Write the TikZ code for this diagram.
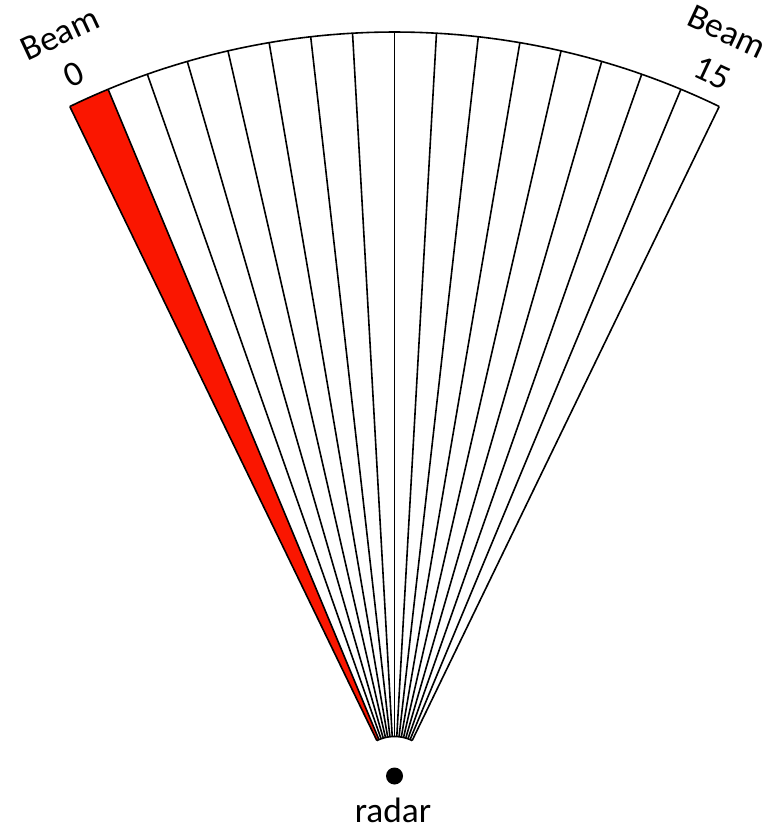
\documentclass[tikz,border=0pt]{standalone}
\usepackage{fontspec}
\setmainfont{Carlito}
\definecolor{beamred}{RGB}{250,22,0}
\tikzset{
  beamline/.style={line width=1.2pt, black},
  lbl/.style={font=\fontsize{26.5}{29}\selectfont, inner sep=0pt},
}
\begin{document}
\begin{tikzpicture}[x=0.75pt,y=-0.75pt]
\useasboundingbox (0,0) rectangle (774,837);
\def\cx{394.5}\def\cy{777}\def\R{745}\def\r{40.5}
\def\ha{25.84}\def\st{3.23}
% red beam 0
\fill[beamred] plot[domain=-\ha:-\ha+\st, samples=10] ({\cx+\R*sin(\x)},{\cy-\R*cos(\x)})
  -- plot[domain=-\ha+\st:-\ha, samples=5] ({\cx+\r*sin(\x)},{\cy-\r*cos(\x)}) -- cycle;
% outer and inner arcs
\draw[beamline] plot[domain=-\ha:\ha, samples=120] ({\cx+\R*sin(\x)},{\cy-\R*cos(\x)});
\draw[beamline] plot[domain=-\ha:\ha, samples=30] ({\cx+\r*sin(\x)},{\cy-\r*cos(\x)});
% beam boundaries
\foreach \i in {0,...,16}{
  \pgfmathsetmacro{\t}{-\ha+\st*\i}
  \draw[beamline] ({\cx+\r*sin(\t)},{\cy-\r*cos(\t)}) -- ({\cx+\R*sin(\t)},{\cy-\R*cos(\t)});
}
% radar
\node[circle, fill=black, minimum size=17pt*0.75, inner sep=0pt] (radar) at (394.5,776) {};
\node[lbl] (radarlbl) at (393,810) {radar};
% labels
\node[lbl, rotate=25] (b0) at (60,34) {Beam};
\node[lbl, rotate=25] (b0n) at (74,74) {0};
\node[lbl, rotate=-25] (b15) at (727,32) {Beam};
\node[lbl, rotate=-25] (b15n) at (712,73) {15};
\end{tikzpicture}
\end{document}
